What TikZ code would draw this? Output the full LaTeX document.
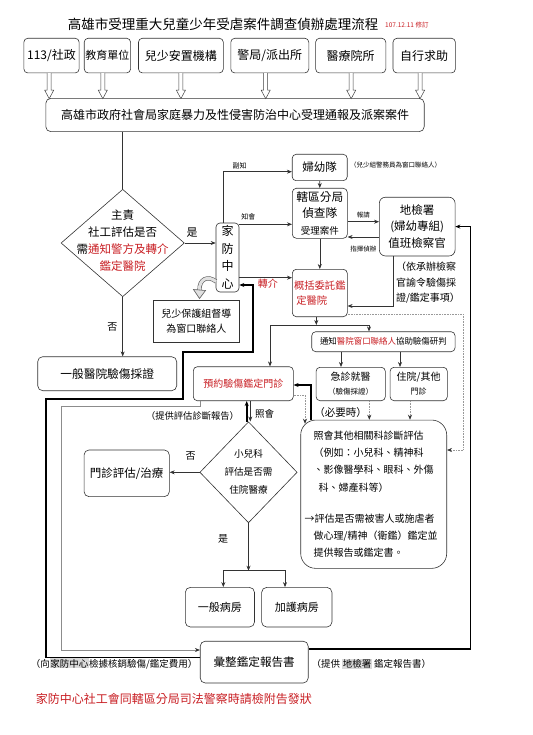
\documentclass[tikz,border=0pt]{standalone}
\usepackage{fontspec}
\setmainfont{Noto Sans CJK TC}
\usetikzlibrary{
  shapes.geometric,
  arrows.meta,
  positioning
}
\definecolor{alertred}{RGB}{200,30,35}
\newcommand{\fsz}[2]{\fontsize{#1}{#2}\selectfont}
\newcommand{\hlt}[1]{{\setlength{\fboxsep}{0.6pt}\colorbox{black!15}{#1}}}
\tikzset{
  >={Stealth[length=5pt,width=4pt]},
  flowbox/.style={draw=black!80, line width=0.6pt, rounded corners=4pt, inner sep=1pt, align=center},
  plainbox/.style={draw=black!80, line width=0.6pt, inner sep=1pt, align=center},
  decide/.style={diamond, draw=black!80, line width=0.6pt, inner sep=0pt},
  conn/.style={draw=black!80, line width=0.6pt},
  thickconn/.style={draw=black, line width=1.7pt},
  grayconn/.style={draw=black!45, line width=0.6pt, >={Stealth[length=5pt,width=4pt,color=black!80]}},
  dotconn/.style={draw=black!40, line width=0.6pt, densely dotted, >={Stealth[length=5pt,width=4pt,color=black!80]}},
  blockarrow/.style={draw=black!75, line width=0.5pt, fill=white},
  smalltext/.style={inner sep=0pt, align=center}
}

\begin{document}
\begin{tikzpicture}[x=1pt, y=1pt]
  \useasboundingbox (0,0) rectangle (532,-735);

  % title
  \node[smalltext, font=\fsz{13.5}{16}] (title) at (223,-24) {高雄市受理重大兒童少年受虐案件調查偵辦處理流程};
  \node[smalltext, anchor=west, font=\fsz{6.5}{8}, text=alertred] (rev) at (385,-25) {107.12.11 修訂};

  % sources of reports
  \node[flowbox, minimum width=55.3, minimum height=34.7, font=\fsz{12}{14}] (src1) at (51.5,-55.6) {113/社政};
  \node[flowbox, minimum width=46.4, minimum height=34.7, font=\fsz{11}{14}] (src2) at (107.4,-55.6) {教育單位};
  \node[flowbox, minimum width=84.9, minimum height=34.7, font=\fsz{12}{14}] (src3) at (180.9,-55.6) {兒少安置機構};
  \node[flowbox, minimum width=78, minimum height=34.7, font=\fsz{12}{14}] (src4) at (269.8,-55.6) {警局/派出所};
  \node[flowbox, minimum width=70.2, minimum height=34.7, font=\fsz{12}{14}] (src5) at (350.7,-55.6) {醫療院所};
  \node[flowbox, minimum width=62.4, minimum height=34.7, font=\fsz{12}{14}] (src6) at (424.2,-55.6) {自行求助};
  \node[flowbox, rounded corners=5pt, minimum width=378.4, minimum height=33.3, font=\fsz{12}{14}] (intake) at (235,-115) {高雄市政府社會局家庭暴力及性侵害防治中心受理通報及派案案件};

  \foreach \s/\dx in {src1/-2.3, src2/-4.6, src3/0, src4/-4.1, src5/0.5, src6/-4.1}
    \draw[blockarrow] ([xshift={\dx-2}]\s.south) -- ++(0,-17) -- ++(-2.5,0) -- ++(4.5,-8.4)
      -- ++(4.5,8.4) -- ++(-2.5,0) -- ++(0,17);

  % social worker decision
  \node[decide, minimum width=123.3, minimum height=107.4] (ask) at (122.7,-243) {};
  \node[smalltext, font=\fsz{11.5}{17}] (asktext) at (122.7,-241) {主責\\社工評估是否\\需\textcolor{alertred}{通知警方及轉介}\\\textcolor{alertred}{鑑定醫院}};
  \node[flowbox, minimum width=23, minimum height=69, inner sep=0pt, font=\fsz{12}{17.5}] (fam) at (227.5,-257.5) {家\\防\\中\\心};
  \node[plainbox, minimum width=86, minimum height=42.7, font=\fsz{10}{14.5}] (sup) at (196.3,-321.3) {兒少保護組督導\\為窗口聯絡人};
  \node[flowbox, rounded corners=5pt, minimum width=139, minimum height=34, font=\fsz{11.7}{14}] (gen) at (107.2,-373.7) {一般醫院驗傷採證};

  % police and prosecutor
  \node[flowbox, minimum width=55, minimum height=26.4, font=\fsz{11.5}{14}] (wcu) at (319.7,-167.5) {婦幼隊};
  \node[smalltext, anchor=west, font=\fsz{6.5}{8}] (wcunote) at (350,-165) {（兒少組警務員為窗口聯絡人）};
  \node[flowbox, minimum width=55, minimum height=50, font=\fsz{11.7}{16}] (pol) at (319.8,-213.3) {轄區分局\\偵查隊\\[1pt]{\fsz{9.5}{12}受理案件}};
  \node[flowbox, rounded corners=6pt, minimum width=75.7, minimum height=58.7, font=\fsz{11.5}{16.5}] (pro) at (417.2,-226.6) {地檢署\\(婦幼專組)\\值班檢察官};
  \node[smalltext, align=left, font=\fsz{10}{15.5}] (pronote) at (428,-283) {（依承辦檢察\\官諭令驗傷採\\證/鑑定事項）};
  \node[flowbox, minimum width=55, minimum height=47.4, align=left, font=\fsz{10.3}{15}, text=alertred] (hos) at (319.8,-293) {概括委託鑑\\\ 定醫院};

  % hospital side
  \node[flowbox, minimum width=100, minimum height=34, font=\fsz{10}{14}, text=alertred] (appt) at (243.3,-383.7) {預約驗傷鑑定門診};
  \node[flowbox, minimum width=143.3, minimum height=20, font=\fsz{8.45}{10}] (ntf) at (383.4,-341.7) {通知\textcolor{alertred}{醫院窗口聯絡人}協助驗傷研判};
  \node[flowbox, minimum width=69.3, minimum height=33.4, font=\fsz{10}{14}] (er) at (350.7,-384) {急診就醫\\{\fsz{7.5}{10}（驗傷採證）}};
  \node[flowbox, minimum width=57.3, minimum height=33.4, font=\fsz{10}{14}] (inp) at (418.7,-384) {住院/其他\\{\fsz{8}{10}門診}};
  \node[flowbox, rounded corners=15pt, minimum width=146, minimum height=148.3] (cons) at (373.7,-494.2) {};
  \node[smalltext, anchor=north west, align=left, font=\fsz{10}{17.3}] (constext) at (313.5,-430.5)
    {照會其他相關科診斷評估\\（例如：小兒科、精神科\\、影像醫學科、眼科、外傷\\\hspace*{5pt}科、婦產科等）\\[14pt]
     \hspace*{-9pt}→評估是否需被害人或施虐者\\做心理/精神（衛鑑）鑑定並\\提供報告或鑑定書。};
  \node[smalltext, font=\fsz{10.5}{12}] (need) at (340.5,-413) {（必要時）};

  % pediatric decision
  \node[decide, minimum width=97.3, minimum height=101] (ped) at (248.5,-472.3) {};
  \node[smalltext, font=\fsz{9.6}{18}] (pedtext) at (248.5,-471.5) {小兒科\\評估是否需\\住院醫療};
  \node[flowbox, rounded corners=5pt, minimum width=85.3, minimum height=46.7, font=\fsz{11.5}{14}] (opd) at (126.7,-473.3) {門診評估/治療};
  \node[flowbox, rounded corners=5pt, minimum width=69.2, minimum height=39.6, font=\fsz{11}{14}] (ward) at (219.9,-607.2) {一般病房};
  \node[flowbox, rounded corners=5pt, minimum width=70.3, minimum height=39.6, font=\fsz{11}{14}] (icu) at (296.8,-607.2) {加護病房};
  \node[flowbox, rounded corners=5pt, minimum width=108, minimum height=41.8, font=\fsz{11.6}{14}] (rep) at (254.2,-662.1) {彙整鑑定報告書};

  % notes at the bottom
  \node[smalltext, anchor=east, font=\fsz{9.5}{12}] (feenote) at (197.5,-663.6) {（向\hlt{家防中心}檢據核銷驗傷/鑑定費用）};
  \node[smalltext, anchor=west, font=\fsz{9.5}{12}] (repnote) at (311.5,-663.6) {（提供 \hlt{地檢署} 鑑定報告書）};
  \node[smalltext, anchor=west, font=\fsz{12}{14}, text=alertred] (footer) at (35.6,-699) {家防中心社工會同轄區分局司法警察時請檢附告發狀};

  % connectors, upper part
  \draw[conn] (intake.south -| ask.north) -- (ask.north);
  \draw[conn,->] (ask.east) -- (ask.east -| fam.west) node[smalltext, pos=0.24, above=5pt, font=\fsz{11}{12}] (yes1) {是};
  \draw[conn,->] (ask.south) -- (ask.south |- gen.north) node[smalltext, midway, left=5pt, font=\fsz{10}{12}] (no1) {否};
  \draw[conn,->] ([xshift=-4.5pt]fam.north) |- ([yshift=-4.2pt]wcu.west) node[smalltext, pos=0.62, above=2pt, font=\fsz{7}{8}] (copy) {副知};
  \draw[conn,->] ([yshift=-11pt]pol.west -| fam.east) -- ([yshift=-11pt]pol.west) node[smalltext, pos=0.17, above=4pt, font=\fsz{7}{8}] (inform) {知會};
  \draw[conn,->] (wcu.south) -- (pol.north);
  \draw[conn,->] ([yshift=-8.4pt]pol.east) -- ([yshift=-8.4pt]pol.east -| pro.west) node[smalltext, midway, above=3pt, font=\fsz{6.5}{8}] (report) {報請};
  \draw[conn,->] ([yshift=-10.4pt]pro.west) -- ([yshift=-10.4pt]pro.west -| pol.east) node[smalltext, midway, below=8.5pt, font=\fsz{6.5}{8}] (direct) {指揮偵辦};
  \draw[conn,->] (pol.south) -- (hos.north);
  \draw[conn,->] ([xshift=-23.9pt]pro.south) |- ([yshift=-13pt]hos.east);
  \draw[conn,->] ([yshift=15.3pt]hos.west -| fam.east) -- ([yshift=15.3pt]hos.west) node[smalltext, pos=0.54, below=1.5pt, font=\fsz{10}{12}, text=alertred] (refer) {轉介};

  % supervisor contact arrow
  \draw[draw=black!65, line width=0.6pt, double=black!12, double distance=3pt] (216,-281.5) .. controls (208,-275) and (199,-279) .. (199.5,-290);
  \draw[draw=black!65, fill=black!12, line width=0.6pt] (193.5,-289.5) -- (205.5,-290.5) -- (199.5,-298.5) -- cycle;

  % thick return lines
  \draw[thickconn,->] ([yshift=4.6pt]rep.west) -| (45.8,-399) -| (182.7,-351.7) -- (253.3,-351.7) |- ([yshift=-27.5pt]fam.east);
  \draw[thickconn,->] ([yshift=13.1pt]rep.east) -| ([xshift=15pt]pro.east) -- (pro.east);
  \draw[thickconn,->] ([xshift=-63pt]cons.north) |- ([yshift=-1.3pt]appt.east);

  % hospital branch
  \coordinate (fork) at (316.3,-325);
  \draw[conn,->] ([xshift=-3.5pt]hos.south) -- (fork);
  \draw[conn,->] (fork) -| ([xshift=26.7pt]appt.north);
  \draw[conn,->] (fork) -| ([xshift=-14.4pt]ntf.north);
  \draw[conn,->] ([xshift=-9.7pt]er.north |- ntf.south) -- ([xshift=-9.7pt]er.north);
  \draw[conn,->] ([xshift=-18.7pt]inp.north |- ntf.south) -- ([xshift=-18.7pt]inp.north);
  \draw[dotconn,->] ([xshift=18.6pt]er.south) -- ([xshift=18.6pt]er.south |- cons.north);
  \draw[dotconn,->] ([xshift=-8.7pt]inp.south) -- ([xshift=-8.7pt]inp.south |- cons.north);
  \draw[dotconn,->] ([yshift=-21.3pt]hos.east) -| ([xshift=16pt, yshift=44.2pt]cons.east) -- ([yshift=44.2pt]cons.east);
  \draw[dotconn,->] ([yshift=-11.3pt]appt.east) -| ([xshift=-68.7pt, yshift=-4pt]cons.north);

  % appointment and pediatric decision
  \draw[thickconn,->] ([xshift=-1.8pt]ped.north) -- ([xshift=-1.8pt]ped.north |- appt.south);
  \draw[conn,->] ([xshift=1.8pt]ped.north |- appt.south) -- ([xshift=1.8pt]ped.north);
  \node[smalltext, font=\fsz{9.5}{12}] (consult) at (264.5,-414) {照會};
  \draw[grayconn,->] ([xshift=-43.3pt]appt.south) |- (61,-406.7) |- ([yshift=12.1pt]rep.west);
  \node[smalltext, font=\fsz{9.3}{12}] (diagnote) at (192.5,-415.5) {（提供評估診斷報告）};
  \draw[conn,->] (ped.west) -- (ped.west -| opd.east) node[smalltext, pos=0.3, above=12pt, font=\fsz{10}{12}] (no2) {否};
  \path (ped.south) ++(0,-47.6) coordinate (fork2);
  \draw[conn,->] (ped.south) -- (fork2) node[smalltext, pos=0.34, left=20pt, font=\fsz{10}{12}] (yes2) {是};
  \draw[conn,->] (fork2) -| ([xshift=3.4pt]ward.north);
  \draw[conn,->] (fork2) -| ([xshift=-11.8pt]icu.north);
\end{tikzpicture}
\end{document}
